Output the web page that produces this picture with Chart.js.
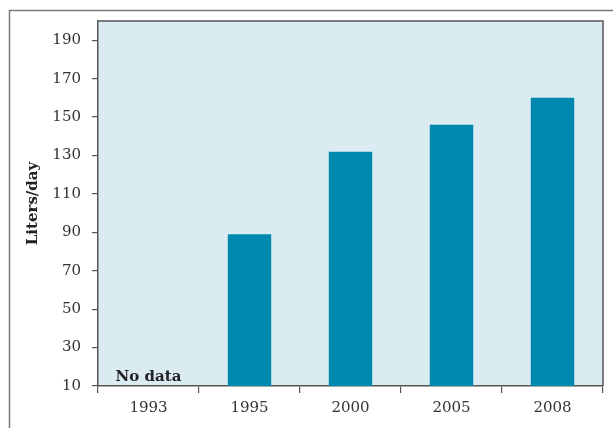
<!DOCTYPE html>
<html lang="en">
<head>
  <meta charset="UTF-8">
  <title>Liters/day</title>
  <script src="https://cdn.jsdelivr.net/npm/chart.js"></script>
  <style>
    html, body {
      margin: 0;
      padding: 0;
      background: #ffffff;
    }
    #wrap {
      width: 613px;
      height: 428px;
    }
  </style>
</head>
<body>
  <div id="wrap">
    <canvas id="c" width="613" height="428"></canvas>
  </div>

  <script>
    const years = ['1993', '1995', '2000', '2005', '2008'];
    const litersPerDay = [null, 89, 132, 146, 160];
    const yTicks = [10, 30, 50, 70, 90, 110, 130, 150, 170, 190];
    const noDataLabel = 'No data';
    const yTitle = 'Liters/day';

    const serif = '"DejaVu Serif", "Liberation Serif", serif';

    // background of plot, frame on top/right, outer box and "No data" note
    const decor = {
      id: 'decor',
      beforeDraw(chart) {
        const { ctx, chartArea: a } = chart;
        ctx.save();
        ctx.fillStyle = '#dbebf2';
        ctx.fillRect(a.left, a.top, a.right - a.left, a.bottom - a.top);
        ctx.strokeStyle = '#7a7a7a';
        ctx.lineWidth = 1.5;
        ctx.beginPath();
        ctx.moveTo(9.5, 428);
        ctx.lineTo(9.5, 10.5);
        ctx.lineTo(613, 10.5);
        ctx.stroke();
        ctx.restore();
      },
      afterDraw(chart) {
        const { ctx, chartArea: a } = chart;
        ctx.save();
        ctx.strokeStyle = '#555';
        ctx.lineWidth = 1.5;
        ctx.beginPath();
        ctx.moveTo(a.left, a.top);
        ctx.lineTo(a.right, a.top);
        ctx.lineTo(a.right, a.bottom);
        ctx.stroke();
        // label for the empty category
        const x = chart.scales.x.getPixelForValue(0);
        ctx.fillStyle = '#222';
        ctx.font = 'bold 15px ' + serif;
        ctx.textAlign = 'center';
        ctx.textBaseline = 'alphabetic';
        ctx.fillText(noDataLabel, x, a.bottom - 5);
        ctx.restore();
      }
    };

    new Chart(document.getElementById('c'), {
      type: 'bar',
      data: {
        labels: years,
        datasets: [{
          data: litersPerDay,
          backgroundColor: '#0089ae',
          barPercentage: 0.86,
          categoryPercentage: 0.5
        }]
      },
      options: {
        responsive: false,
        animation: false,
        layout: { padding: { top: 21, right: 10, left: 0, bottom: 0 } },
        plugins: {
          legend: { display: false },
          tooltip: { enabled: false }
        },
        scales: {
          x: {
            grid: {
              offset: true,
              drawOnChartArea: false,
              drawTicks: true,
              tickLength: 7,
              color: '#555',
              lineWidth: 1.2
            },
            border: { display: true, color: '#555', width: 1.5 },
            ticks: {
              color: '#333',
              font: { family: serif, size: 15 },
              padding: 6
            },
            afterFit(scale) { scale.height = 42; }
          },
          y: {
            min: 10,
            max: 200,
            grid: {
              drawOnChartArea: false,
              drawTicks: true,
              tickLength: 6,
              color: '#555',
              lineWidth: 1.2
            },
            border: { display: true, color: '#555', width: 1.5 },
            afterBuildTicks(scale) {
              scale.ticks = yTicks.map(v => ({ value: v }));
            },
            ticks: {
              color: '#333',
              font: { family: serif, size: 15 },
              padding: 11
            },
            title: {
              display: true,
              text: yTitle,
              color: '#222',
              font: { family: serif, size: 15, weight: 'bold' },
              padding: { top: 24, bottom: 0 }
            },
            afterFit(scale) { scale.width = 98; }
          }
        }
      },
      plugins: [decor]
    });
  </script>
</body>
</html>
